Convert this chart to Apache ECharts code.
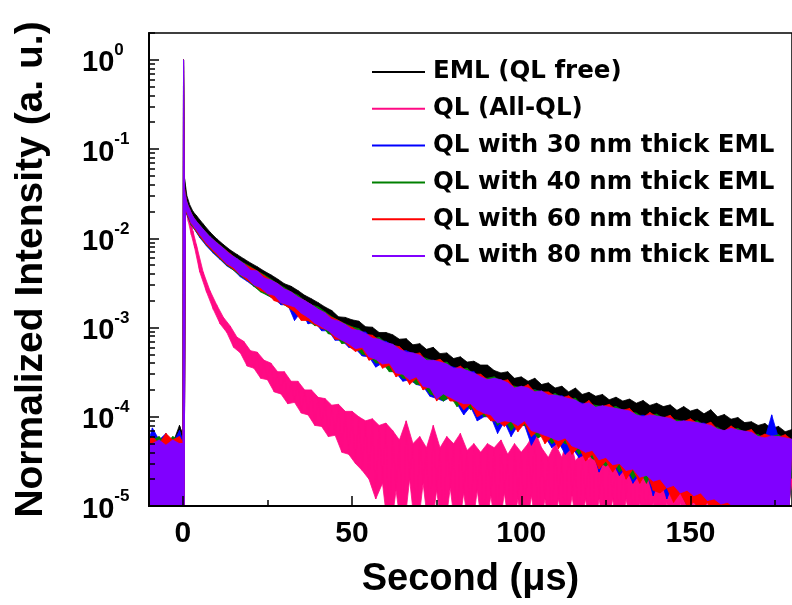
<!DOCTYPE html>
<html><head><meta charset="utf-8">
<script src="https://cdn.jsdelivr.net/npm/echarts@6/dist/echarts.min.js"></script>
<style>html,body{margin:0;padding:0;background:#fff}#c{width:792px;height:605px}</style>
</head><body><div id="c"></div>
<script>
// Sample times (µs) of the upper noise peaks and of the lower noise dips
const T_TOP = [-10,-9,-7,-5,-3,-1,0.1,0.2,0.5,1.2,2,3,4,6,8,10,
12,14,16,18,20,22,24,26,28,30,32,34,36,38,40,42,44,46,48,50,
52,54,56,58,60,62,64,66,68,70,72,74,76,78,80,82,84,86,88,90,
92,94,96,98,100,102,104,106,108,110,112,114,116,118,120,122,124,126,128,130,
132,134,136,138,140,142,144,146,148,150,152,154,156,158,160,162,164,166,168,170,
172,174,176,178,180];
const T_BOT = [-10,-8,-6,-4,-2,0.3,0.8,1.6,2.5,3.5,5,7,9,
11,13,15,17,19,21,23,25,27,29,31,33,35,37,39,41,43,45,47,49,
51,53,55,57,59,61,63,65,67,69,71,73,75,77,79,81,83,85,87,89,
91,93,95,97,99,101,103,105,107,109,111,113,115,117,119,121,123,125,127,129,
131,133,135,137,139,141,143,145,147,149,151,153,155,157,159,161,163,165,167,169,
171,173,175,177,179];

const seriesNames = ['EML (QL free)','QL (All-QL)','QL with 30 nm thick EML','QL with 40 nm thick EML','QL with 60 nm thick EML','QL with 80 nm thick EML'];
const seriesColors = ['#000000','#ff0a84','#0000ff','#008000','#ff0000','#8000ff'];

// EML (QL free)
const emlFreeTop = [5e-5,6e-5,5e-5,5.5e-5,5e-5,8e-5,6e-5,1,0.047,0.03,0.024,0.02,0.018,0.0145,0.0118,0.0099,
0.0085,0.0074,0.0066,0.0059,0.0053,0.0048,0.0043,0.0039,0.0035,0.0031,0.0029,0.0026,0.0023,0.0021,0.0019,0.0017,0.00155,0.00132,0.0013,0.00122,
0.00118,0.00102,0.00101,0.00088,0.00088,0.00083,0.00074,0.00075,0.00064,0.00066,0.00057,0.0006,0.00051,0.00052,0.00045,0.00047,0.00041,0.00042,0.00038,0.00038,
0.00033,0.00031,0.00032,0.00027,0.00028,0.00025,0.00027,0.00023,0.00024,0.00021,0.00022,0.00019,0.00021,0.000178,0.000188,0.00017,0.000178,0.000155,0.000166,0.00015,
0.000158,0.000142,0.000152,0.000134,0.000142,0.00013,0.000136,0.000118,0.00013,0.000116,0.000122,0.000108,0.00012,0.0001,0.000106,0.000094,0.000098,0.000086,0.000088,0.00008,
0.000084,0.000074,0.000078,0.000068,0.000072];
const emlFreeBot = [4e-6,4e-6,4e-6,4e-6,4e-6,4e-6,0.03,0.023,0.018,0.016,0.0135,0.011,0.009,
0.0076,0.0065,0.0056,0.005,0.0044,0.0039,0.0035,0.0031,0.0028,0.0025,0.0022,0.002,0.0018,0.0016,0.0014,0.00128,0.00115,0.00105,0.00095,0.00088,
0.0008,0.00074,0.00068,0.00063,0.00058,0.00054,0.0005,0.00046,0.00043,0.0004,0.00037,0.00035,0.00033,0.00031,0.00029,0.00027,0.00025,0.00024,0.00022,0.00021,
0.0002,0.00019,0.00018,0.00017,0.00016,0.00015,0.00014,0.00013,0.000125,0.00012,0.000115,0.00011,0.000105,0.0001,0.000095,0.00009,0.000085,0.00008,0.000078,0.000075,
0.000072,0.00007,0.000068,0.000065,0.000063,0.00006,0.000058,0.000056,0.000054,0.000052,0.00005,0.000048,0.000046,0.000044,0.000042,0.00004,0.000039,0.000038,0.000036,0.000035,
0.000034,0.000033,0.000032,0.00003,0.000029];

// QL (All-QL)
const allQLTop = [5e-5,4.5e-5,5e-5,4.5e-5,5e-5,4.5e-5,4.5e-5,1,0.036,0.024,0.018,0.012,0.0085,0.0042,0.0026,0.0018,
0.0013,0.00104,0.00078,0.0007,0.00055,0.00053,0.00043,0.0004,0.00032,0.00032,0.00025,0.00025,0.0002,0.0002,0.000165,0.00016,0.000135,0.000138,0.000115,0.000115,
0.0001,0.00009,0.000095,0.00008,0.000085,0.00007,0.000055,0.00009,0.00005,0.00006,0.000045,0.00008,0.000045,0.00006,0.00005,0.000065,0.000042,0.00005,0.00004,0.00005,
0.000045,0.000055,0.000038,0.00005,0.00004,0.00005,0.00007,0.000045,0.000035,0.00005,0.000035,0.000065,0.000032,0.00004,0.000033,0.00006,0.00003,0.000036,0.000028,0.000034,
0.000055,0.000033,0.000026,0.00003,0.000025,0.00003,0.000024,0.000028,0.000023,0.000027,0.000023,0.000026,0.000022,0.000025,0.000022,0.000024,0.000021,0.000023,0.00002,0.000022,
0.00002,0.000022,0.00002,0.000021,0.00002];
const allQLBot = [4e-6,4e-6,4e-6,4e-6,4e-6,4e-6,0.022,0.0155,0.011,0.0078,0.0042,0.0025,0.0016,
0.0011,0.00088,0.0006,0.00052,0.00037,0.00035,0.00027,0.00026,0.00019,0.00018,0.00014,0.000145,0.00011,0.000105,0.00008,0.000078,0.00006,0.000062,0.00004,0.000038,
0.00003,0.000025,0.00002,0.000012,0.000018,4e-6,0.000015,4e-6,0.00002,4e-6,0.000018,4e-6,0.000015,4e-6,0.000016,4e-6,0.000014,4e-6,0.000015,4e-6,
0.000013,4e-6,0.000014,4e-6,0.000012,4e-6,0.000013,4e-6,0.000012,4e-6,0.000012,4e-6,0.000013,4e-6,0.000012,4e-6,0.000012,4e-6,0.000012,4e-6,
0.000012,4e-6,0.000011,4e-6,0.000011,4e-6,0.000011,4e-6,0.000011,4e-6,0.000011,4e-6,0.000011,4e-6,0.00001,4e-6,0.00001,4e-6,0.00001,4e-6,
0.00001,4e-6,0.00001,4e-6,0.00001];

// QL with 30 nm thick EML
const ql30Top = [5.5e-5,7.5e-5,5.5e-5,6.5e-5,5e-5,7e-5,5e-5,1,0.034,0.025,0.021,0.0172,0.0152,0.0124,0.0102,0.0088,
0.0076,0.0066,0.0058,0.0052,0.0047,0.0042,0.0038,0.0034,0.003,0.0027,0.0025,0.0022,0.002,0.0018,0.0016,0.00145,0.0013,0.00118,0.00108,0.001,
0.0009,0.00089,0.00075,0.00072,0.0007,0.00063,0.00056,0.00055,0.00051,0.00048,0.00044,0.00042,0.0004,0.00038,0.00036,0.00034,0.00032,0.00032,0.00027,0.00026,
0.00026,0.00025,0.00025,0.00021,0.00021,0.0002,0.0002,0.00019,0.00017,0.00017,0.000172,0.000155,0.00015,0.000142,0.00014,0.000126,0.000128,0.000126,0.000128,0.000116,
0.000112,0.000103,0.000104,0.0001,0.0001,0.000097,0.000093,0.00009,0.000087,0.000086,0.000084,0.000085,0.000078,0.000072,0.000069,0.000072,0.000069,0.000067,0.000066,0.000059,
0.000057,0.000105,0.000058,0.000057,0.000054];
const ql30Bot = [4e-6,4e-6,4e-6,4e-6,4e-6,4e-6,0.02,0.017,0.014,0.0125,0.0102,0.0082,0.0068,
0.0058,0.0049,0.0044,0.0037,0.0033,0.0029,0.0026,0.0023,0.0021,0.0018,0.0018,0.0012,0.0015,0.0011,0.00115,0.00092,0.00092,0.00072,0.00072,0.0006,
0.00058,0.00048,0.00047,0.00036,0.0004,0.00033,0.00031,0.00025,0.00026,0.00023,0.00022,0.00017,0.00016,0.00015,0.000165,0.00014,0.000105,0.00013,0.00009,0.0001,
0.0001,0.000065,0.000088,0.00006,0.00008,0.00008,0.000048,0.000066,0.00006,0.000045,0.000052,0.000038,0.000045,0.000035,0.000038,0.000044,0.000024,0.000036,0.000031,0.000022,
0.000027,0.000018,0.000023,0.000024,0.000013,0.000021,0.000012,0.000018,0.000015,0.00001,0.000014,0.000008,0.000012,0.000013,0.000007,0.000012,0.000006,0.000011,0.0000095,0.000006,
0.0000085,0.000006,0.000008,0.000005,0.0000078];

// QL with 40 nm thick EML
const ql40Top = [5e-5,5.5e-5,6e-5,5e-5,6e-5,5.5e-5,5e-5,1,0.034,0.0255,0.0212,0.0176,0.0156,0.0127,0.0105,0.009,
0.0078,0.0067,0.0059,0.0053,0.0048,0.0043,0.0039,0.0035,0.0031,0.0028,0.0025,0.0023,0.002,0.0018,0.0017,0.0015,0.00132,0.0012,0.0011,0.00102,
0.00097,0.00084,0.00075,0.00078,0.00067,0.00064,0.0006,0.00052,0.00051,0.00048,0.00045,0.00042,0.0004,0.00041,0.00034,0.00034,0.00035,0.0003,0.00027,0.00027,
0.00028,0.00025,0.00023,0.00022,0.00021,0.0002,0.0002,0.00019,0.00017,0.000182,0.000165,0.000155,0.000162,0.000135,0.00014,0.000134,0.00013,0.000125,0.00013,0.000118,
0.000114,0.00011,0.000098,0.000103,0.000107,0.000096,0.000094,0.000092,0.000088,0.000086,0.00009,0.000081,0.000078,0.000076,0.000068,0.000072,0.000074,0.000067,0.000065,0.000063,
0.000057,0.00006,0.000063,0.000057,0.000055];
const ql40Bot = [4e-6,4e-6,4e-6,4e-6,4e-6,4e-6,0.02,0.0172,0.0142,0.0126,0.0104,0.0084,0.007,
0.0059,0.005,0.0044,0.0038,0.0034,0.0029,0.0025,0.0023,0.0021,0.0019,0.0017,0.0015,0.0013,0.0012,0.00105,0.00105,0.00085,0.00082,0.00066,0.00068,
0.0006,0.0005,0.00049,0.0004,0.0004,0.00032,0.00032,0.00027,0.00027,0.00023,0.00023,0.00018,0.00017,0.00015,0.00017,0.00013,0.00015,0.00012,0.00013,0.0001,
0.00011,0.00008,0.000095,0.00007,0.000085,0.00008,0.000072,0.000058,0.000064,0.00005,0.000056,0.00005,0.000048,0.000038,0.000042,0.000034,0.000031,0.000028,0.000032,0.000024,
0.000028,0.00002,0.000025,0.000018,0.000026,0.000015,0.00002,0.000013,0.000017,0.000011,0.000016,0.00001,0.000014,0.000009,0.000013,0.000008,0.000012,0.000011,0.0000075,0.000011,
0.000011,0.000007,0.00001,0.000011,0.0000065];

// QL with 60 nm thick EML
const ql60Top = [5.5e-5,6e-5,5e-5,6.5e-5,5.5e-5,6e-5,5e-5,1,0.034,0.025,0.021,0.0174,0.0154,0.0125,0.0103,0.0089,
0.0077,0.0067,0.0058,0.0052,0.0047,0.0043,0.0038,0.0034,0.0031,0.0027,0.0025,0.0022,0.002,0.0018,0.0016,0.00146,0.0013,0.0012,0.00108,0.001,
0.0009,0.00084,0.00082,0.00072,0.00066,0.00063,0.00061,0.00052,0.0005,0.00052,0.00042,0.00042,0.00044,0.00038,0.00034,0.00037,0.00032,0.0003,0.0003,0.00026,
0.00026,0.00025,0.00026,0.00021,0.00021,0.00023,0.00019,0.00019,0.00019,0.00017,0.000163,0.000172,0.00015,0.000135,0.000152,0.000125,0.00013,0.000138,0.00012,0.000118,
0.000124,0.000103,0.000098,0.000112,0.0001,0.000097,0.000104,0.000086,0.000088,0.000095,0.000084,0.000081,0.000087,0.000072,0.000069,0.000079,0.00007,0.000068,0.000072,0.000059,
0.000064,0.00006,0.000059,0.000063,0.000055];
const ql60Bot = [4e-6,4e-6,4e-6,4e-6,4e-6,4e-6,0.0205,0.0175,0.0145,0.0128,0.0106,0.0085,0.0071,
0.006,0.0051,0.0045,0.0039,0.0034,0.003,0.0026,0.0024,0.002,0.0019,0.0017,0.0015,0.0012,0.0012,0.00108,0.00098,0.00094,0.00074,0.00074,0.00062,
0.00054,0.00058,0.00043,0.00046,0.00035,0.00038,0.00028,0.00031,0.00023,0.00027,0.0002,0.00022,0.00015,0.00019,0.00015,0.00015,0.00012,0.00014,0.0001,0.00011,
0.00009,0.00009,0.000078,0.00009,0.000068,0.000085,0.00006,0.00007,0.00005,0.00006,0.000044,0.000056,0.000038,0.000046,0.000032,0.000038,0.000026,0.000032,0.000024,0.00003,
0.00002,0.000026,0.000018,0.000024,0.000015,0.000014,0.000016,0.000011,0.000014,0.00001,0.000011,0.000009,0.000011,0.000008,0.00001,0.000008,0.00001,0.000007,0.0000095,0.0000065,
0.0000095,0.000006,0.000009,0.000006,0.0000085];

// QL with 80 nm thick EML
const ql80Top = [5e-5,5e-5,5.5e-5,4.8e-5,5.5e-5,5e-5,5e-5,1,0.033,0.025,0.021,0.0175,0.0155,0.0126,0.0104,0.0089,
0.0077,0.0066,0.0059,0.0052,0.0044,0.0043,0.0036,0.0034,0.0031,0.0027,0.0025,0.0022,0.002,0.0018,0.0016,0.00146,0.00124,0.00118,0.00108,0.00095,
0.00093,0.00086,0.00076,0.00074,0.00068,0.00065,0.00057,0.00053,0.00052,0.00049,0.00043,0.00043,0.00041,0.00039,0.00035,0.00035,0.00033,0.00031,0.00028,0.00026,
0.00027,0.00026,0.00024,0.00021,0.00022,0.00021,0.00019,0.000195,0.000175,0.000175,0.000168,0.00016,0.000154,0.000138,0.000143,0.000128,0.000133,0.000128,0.000124,0.00012,
0.000116,0.000105,0.0001,0.000105,0.000102,0.000099,0.000096,0.000088,0.00009,0.000088,0.000086,0.000083,0.00008,0.000073,0.00007,0.000074,0.000071,0.000069,0.000067,0.00006,
0.000058,0.000061,0.00006,0.000058,0.000056];
const ql80Bot = [4e-6,4e-6,4e-6,4e-6,4e-6,4e-6,0.021,0.018,0.0148,0.0132,0.011,0.0088,0.0074,
0.0062,0.0052,0.0047,0.0039,0.0036,0.003,0.0028,0.0024,0.0023,0.0019,0.0018,0.0017,0.00145,0.0013,0.00112,0.00102,0.00092,0.0008,0.00072,0.00066,
0.00058,0.0006,0.00047,0.00044,0.00039,0.0004,0.00031,0.0003,0.00026,0.00028,0.00022,0.00021,0.00016,0.00018,0.000165,0.00015,0.00014,0.00014,0.00012,0.00011,
0.000105,0.000085,0.00009,0.000088,0.00008,0.00009,0.00007,0.000066,0.000062,0.000058,0.000054,0.000058,0.000047,0.000044,0.00004,0.000042,0.000033,0.000035,0.000029,0.00003,
0.000025,0.000026,0.000021,0.000022,0.000019,0.00002,0.000016,0.000017,0.000014,0.000015,0.000013,0.000014,0.0000115,0.000012,0.0000105,0.000011,0.0000095,0.00001,0.0000088,0.0000092,
0.0000082,0.0000086,0.0000078,0.000008,0.0000075];

const xMajorTicks = [0, 50, 100, 150];
const xMinorTicks = [25, 75, 125, 175];
const yMajorTicks = [1e-5, 1e-4, 1e-3, 1e-2, 1e-1, 1];
const yMinorTicks = [2e-5,3e-5,4e-5,5e-5,6e-5,7e-5,8e-5,9e-5,
2e-4,3e-4,4e-4,5e-4,6e-4,7e-4,8e-4,9e-4,
2e-3,3e-3,4e-3,5e-3,6e-3,7e-3,8e-3,9e-3,
2e-2,3e-2,4e-2,5e-2,6e-2,7e-2,8e-2,9e-2,
0.2,0.3,0.4,0.5,0.6,0.7,0.8,0.9,2];

const tops = [emlFreeTop, allQLTop, ql30Top, ql40Top, ql60Top, ql80Top];
const bots = [emlFreeBot, allQLBot, ql30Bot, ql40Bot, ql60Bot, ql80Bot];
const bad = tops.some(a => a.length !== T_TOP.length) || bots.some(a => a.length !== T_BOT.length);

const FONT = 'Liberation Sans, Arial, sans-serif';
const chart = echarts.init(document.getElementById('c'), null, {renderer: 'canvas'});

const series = [];
tops.forEach((top, k) => {
  const bot = bots[k];
  const upper = T_TOP.map((t, i) => [t, top[i]]);
  const lower = T_BOT.map((t, i) => [t, bot[i]]);
  const outline = upper.concat(lower.slice().reverse());
  // filled noise band between the upper peaks and the lower dips
  series.push({
    type: 'custom', name: 'band ' + k, coordinateSystem: 'cartesian2d',
    xAxisIndex: 0, yAxisIndex: 0, clip: true, silent: true, z: 10 + 2 * k,
    data: [[50, 1e-3]], encode: {x: 0, y: 1},
    renderItem: function (params, api) {
      return {
        type: 'polygon',
        shape: {points: outline.map(p => api.coord(p))},
        style: {fill: seriesColors[k], stroke: seriesColors[k], lineWidth: 0.8}
      };
    }
  });
  // the noisy trace itself
  series.push({
    type: 'line', name: seriesNames[k], z: 11 + 2 * k,
    data: upper.concat(lower).sort((a, b) => a[0] - b[0]),
    symbol: 'none', showSymbol: false, clip: true, silent: true,
    lineStyle: {color: seriesColors[k], width: 1},
    itemStyle: {color: seriesColors[k]},
    emphasis: {disabled: true},
    xAxisIndex: 0, yAxisIndex: 0
  });
});

chart.setOption({
  animation: false,
  title: bad ? {text: 'LEN MISMATCH', left: 300, top: 300} : undefined,
  grid: {left: 149, right: 0, top: 33, bottom: 99, show: true, borderColor: '#000', borderWidth: 1.5, backgroundColor: 'transparent'},
  legend: {
    orient: 'vertical', left: 372, top: 58, padding: 0, z: 40,
    itemWidth: 53, itemHeight: 2, itemGap: 8.8, icon: 'rect',
    data: seriesNames,
    textStyle: {fontFamily: 'DejaVu Sans', fontWeight: 'bold', fontSize: 24.5, color: '#000', lineHeight: 28, padding: [0, 0, 0, 3]},
    selectedMode: false
  },
  xAxis: [{
    type: 'value', min: -10, max: 180, position: 'bottom', z: 50,
    name: 'Second (\u03bcs)', nameLocation: 'middle', nameGap: 55,
    nameTextStyle: {fontFamily: FONT, fontWeight: 'bold', fontSize: 38, color: '#000'},
    axisLine: {show: true, onZero: false, lineStyle: {color: '#000', width: 2}},
    axisTick: {show: true, inside: true, length: 10, customValues: xMajorTicks, lineStyle: {color: '#000', width: 1.5}},
    axisLabel: {customValues: xMajorTicks, margin: 13, fontFamily: FONT, fontWeight: 'bold', fontSize: 30, color: '#000'},
    splitLine: {show: false}
  }, {
    type: 'value', min: -10, max: 180, position: 'bottom', z: 50,
    axisLine: {show: false, onZero: false},
    axisTick: {show: true, inside: true, length: 6, customValues: xMinorTicks, lineStyle: {color: '#000', width: 1.5}},
    axisLabel: {show: false},
    splitLine: {show: false}
  }],
  yAxis: [{
    type: 'log', logBase: 10, min: 1e-5, max: 2, position: 'left', z: 50,
    name: 'Normalized Intensity (a. u.)', nameLocation: 'middle', nameGap: 98,
    nameTextStyle: {fontFamily: FONT, fontWeight: 'bold', fontSize: 39, color: '#000'},
    axisLine: {show: true, onZero: false, lineStyle: {color: '#000', width: 2}},
    axisTick: {show: true, inside: true, length: 10, customValues: yMajorTicks, lineStyle: {color: '#000', width: 1.5}},
    axisLabel: {
      customValues: yMajorTicks, margin: 67, align: 'left',
      formatter: function (v) { return '{b|10}{s|' + Math.round(Math.log10(v)) + '}'; },
      rich: {
        b: {fontFamily: FONT, fontWeight: 'bold', fontSize: 29, color: '#000', verticalAlign: 'bottom'},
        s: {fontFamily: FONT, fontWeight: 'bold', fontSize: 17, color: '#000', verticalAlign: 'top', lineHeight: 36}
      }
    },
    splitLine: {show: false}
  }, {
    type: 'log', logBase: 10, min: 1e-5, max: 2, position: 'left', z: 50,
    axisLine: {show: false, onZero: false},
    axisTick: {show: true, inside: true, length: 6, customValues: yMinorTicks, lineStyle: {color: '#000', width: 1.5}},
    axisLabel: {show: false},
    splitLine: {show: false}
  }],
  series: series
});
</script>
</body></html>
